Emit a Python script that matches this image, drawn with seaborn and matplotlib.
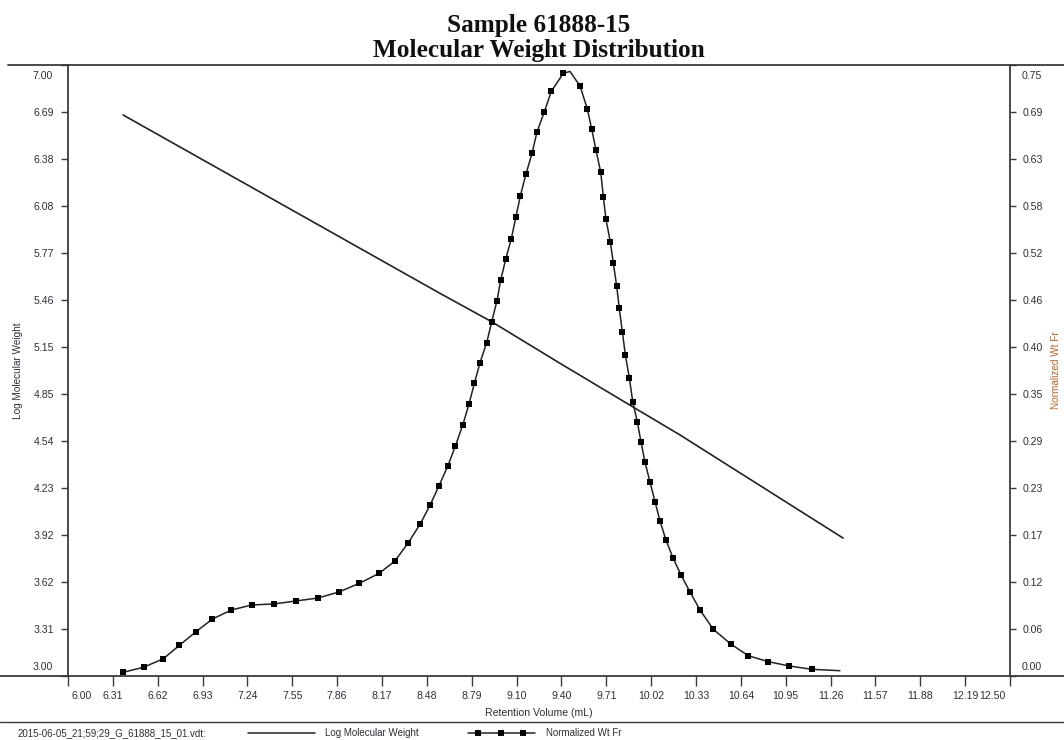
import numpy as np
import matplotlib
matplotlib.use("Agg")
import matplotlib.pyplot as plt
from matplotlib.lines import Line2D
import matplotlib.transforms as mtransforms
import seaborn as sns

# Normalized weight fraction vs retention volume (mL)
retention_wt = [6.380, 6.521, 6.658, 6.769, 6.883, 6.997, 7.127, 7.268, 7.420, 7.573,
                7.724, 7.869, 8.011, 8.148, 8.256, 8.348, 8.429, 8.498, 8.560, 8.620,
                8.673, 8.724, 8.767, 8.804, 8.843, 8.889, 8.924, 8.960, 8.986, 9.020,
                9.059, 9.091, 9.121, 9.160, 9.202, 9.236, 9.287, 9.335, 9.418, 9.464,
                9.533, 9.583, 9.614, 9.643, 9.676, 9.694, 9.712, 9.742, 9.763, 9.786,
                9.804, 9.825, 9.846, 9.873, 9.897, 9.928, 9.954, 9.981, 10.016, 10.051,
                10.085, 10.126, 10.175, 10.230, 10.292, 10.361, 10.453, 10.573, 10.694, 10.832,
                10.977, 11.132, 11.326]
wt_fraction = [0.0045, 0.0107, 0.0212, 0.0377, 0.0543, 0.0700, 0.0810, 0.0872, 0.0884, 0.0921,
               0.0957, 0.1031, 0.1138, 0.1261, 0.1412, 0.1636, 0.1862, 0.2095, 0.2336, 0.2574,
               0.2823, 0.3081, 0.3339, 0.3593, 0.3846, 0.4091, 0.4349, 0.4607, 0.4861, 0.5115,
               0.5368, 0.5638, 0.5892, 0.6162, 0.6416, 0.6678, 0.6927, 0.7177, 0.7398, 0.7421,
               0.7242, 0.6964, 0.6711, 0.6457, 0.6183, 0.5883, 0.5606, 0.5331, 0.5066, 0.4787,
               0.4513, 0.4226, 0.3940, 0.3662, 0.3367, 0.3122, 0.2872, 0.2627, 0.2381, 0.2136,
               0.1903, 0.1669, 0.1448, 0.1240, 0.1031, 0.0810, 0.0573, 0.0393, 0.0249, 0.0176,
               0.0123, 0.0082, 0.0065]
# samples without a plotted symbol (peak apex and trace end)
unmarked = [39, len(retention_wt) - 1]

# Calibration curve: log molecular weight vs retention volume
retention_mw = [6.380, 8.567, 8.924, 9.395, 9.913, 10.223, 11.348]
log_mw = [6.673, 5.505, 5.319, 5.047, 4.753, 4.578, 3.903]

x_tick_labels = ["6.00", "6.31", "6.62", "6.93", "7.24", "7.55", "7.86", "8.17", "8.48",
                 "8.79", "9.10", "9.40", "9.71", "10.02", "10.33", "10.64", "10.95",
                 "11.26", "11.57", "11.88", "12.19", "12.50"]
left_tick_labels = ["3.00", "3.31", "3.62", "3.92", "4.23", "4.54", "4.85", "5.15",
                    "5.46", "5.77", "6.08", "6.38", "6.69", "7.00"]
right_tick_labels = ["0.00", "0.06", "0.12", "0.17", "0.23", "0.29", "0.35", "0.40",
                     "0.46", "0.52", "0.58", "0.63", "0.69", "0.75"]

title_lines = ["Sample 61888-15", "Molecular Weight Distribution"]
file_name = "2015-06-05_21;59;29_G_61888_15_01.vdt:"

sns.set_theme(style="white")
plt.rcParams["font.family"] = ["Liberation Sans", "DejaVu Sans"]

W, H = 1064, 740
ink = "#222222"
axis_col = "#3a3a3a"
text_col = "#2e2e38"

fig = plt.figure(figsize=(W / 100, H / 100), dpi=100)
fig.patch.set_facecolor("white")
ax = fig.add_axes([68 / W, 1 - 676 / H, 942 / W, 611 / H])
ax2 = ax.twinx()

sns.lineplot(x=retention_mw, y=log_mw, ax=ax, color=ink, linewidth=1.2,
             sort=False, estimator=None)
marked = [i for i in range(len(retention_wt)) if i not in unmarked]
sns.lineplot(x=retention_wt, y=wt_fraction, ax=ax2, color=ink, linewidth=1.1,
             marker="s", markersize=4.6, markeredgewidth=0, markerfacecolor="black",
             markevery=marked, sort=False, estimator=None)

ax.set_xlim(6.0, 12.5)
ax.set_ylim(3.0, 7.0)
ax2.set_ylim(0.0, 0.75)

xt = np.linspace(6.0, 12.5, len(x_tick_labels))
ax.set_xticks(xt)
lt = np.linspace(3.0, 7.0, len(left_tick_labels))
rt = np.linspace(0.0, 0.75, len(right_tick_labels))
ax.set_yticks(lt)
ax2.set_yticks(rt)

# end labels sit inside the frame, so they are drawn separately
ax.set_yticklabels([""] + left_tick_labels[1:-1] + [""])
ax2.set_yticklabels([""] + right_tick_labels[1:-1] + [""])
ax.set_xticklabels([""] + x_tick_labels[1:-1] + [""])

fs = 7.6
ax.tick_params(axis="x", bottom=True, direction="out", length=7, width=1.0,
               color=axis_col, labelsize=fs, labelcolor=text_col, pad=4)
ax.tick_params(axis="y", left=True, direction="out", length=5, width=1.0,
               color=axis_col, labelsize=fs, labelcolor=text_col, pad=5)
ax2.tick_params(axis="y", right=True, direction="out", length=4, width=1.0,
                color=axis_col, labelsize=fs, labelcolor=text_col, pad=5)


def shifted(tr, dx_px, dy_px):
    return tr + mtransforms.ScaledTranslation(dx_px / 100, dy_px / 100, fig.dpi_scale_trans)


left_tr = mtransforms.blended_transform_factory(ax.transAxes, ax.transData)
ax.text(-0.0165, lt[-1], left_tick_labels[-1], ha="right", va="top",
        fontsize=fs, color=text_col, transform=shifted(left_tr, 0, -6))
ax.text(-0.0165, lt[0], left_tick_labels[0], ha="right", va="bottom",
        fontsize=fs, color=text_col, transform=shifted(left_tr, 0, 4))
right_tr = mtransforms.blended_transform_factory(ax2.transAxes, ax2.transData)
ax2.text(1.012, rt[-1], right_tick_labels[-1], ha="left", va="top",
         fontsize=fs, color=text_col, transform=shifted(right_tr, 0, -6))
ax2.text(1.012, rt[0], right_tick_labels[0], ha="left", va="bottom",
         fontsize=fs, color=text_col, transform=shifted(right_tr, 0, 4))
bottom_tr = mtransforms.blended_transform_factory(ax.transData, ax.transAxes)
ax.text(xt[0], 0, x_tick_labels[0], ha="left", va="top",
        fontsize=fs, color=text_col, transform=shifted(bottom_tr, 3, -15))
ax.text(xt[-1], 0, x_tick_labels[-1], ha="right", va="top",
        fontsize=fs, color=text_col, transform=shifted(bottom_tr, -5, -15))

for a in (ax, ax2):
    for s in a.spines.values():
        s.set_visible(False)
ax.spines["left"].set_visible(True)
ax2.spines["right"].set_visible(True)
for s in (ax.spines["left"], ax2.spines["right"]):
    s.set_color(axis_col)
    s.set_linewidth(1.3)

ax.set_xlabel("Retention Volume (mL)", fontsize=fs, color=text_col, va="center")
ax.xaxis.set_label_coords(0.5, (676 - 713) / 611)
ax.set_ylabel("Log Molecular Weight", fontsize=7.2, color=text_col, va="center")
ax.yaxis.set_label_coords((18 - 68) / 942, 0.5)
ax2.set_ylabel("Normalized Wt Fr", fontsize=7.2, color="#b5622a", va="center", rotation=90)
ax2.yaxis.set_label_coords((1056 - 68) / 942, 0.5)


# frame rules across the page
def hline(y_px, x0_px=0, x1_px=W, lw=1.3):
    fig.add_artist(Line2D([x0_px / W, x1_px / W], [1 - y_px / H, 1 - y_px / H],
                          transform=fig.transFigure, color=axis_col, linewidth=lw))


hline(65, 8, W)
hline(676, 0, W)
hline(722, 0, W, lw=1.0)

# title
tfont = dict(family=["Liberation Serif", "DejaVu Serif"], fontweight="bold",
             fontsize=18.2, color="#111111", ha="center", va="baseline")
fig.text(539 / W, 1 - 32 / H, title_lines[0], **tfont)
fig.text(539 / W, 1 - 57 / H, title_lines[1], **tfont)

# legend row
ly = 1 - 733 / H
fig.text(18 / W, ly, file_name, fontsize=7.0, color=text_col, ha="left", va="center")
fig.add_artist(Line2D([248 / W, 315 / W], [ly, ly], transform=fig.transFigure,
                      color=ink, linewidth=1.1))
fig.text(325 / W, ly, "Log Molecular Weight", fontsize=7.0, color=text_col,
         ha="left", va="center")
fig.add_artist(Line2D([468 / W, 535 / W], [ly, ly], transform=fig.transFigure,
                      color=ink, linewidth=1.1))
fig.add_artist(Line2D([478 / W, 501 / W, 523 / W], [ly, ly, ly], transform=fig.transFigure,
                      color=ink, linestyle="none", marker="s", markersize=4.6,
                      markeredgewidth=0, markerfacecolor="black"))
fig.text(546 / W, ly, "Normalized Wt Fr", fontsize=7.0, color=text_col,
         ha="left", va="center")

fig.savefig("out.png", dpi=100, facecolor="white")
